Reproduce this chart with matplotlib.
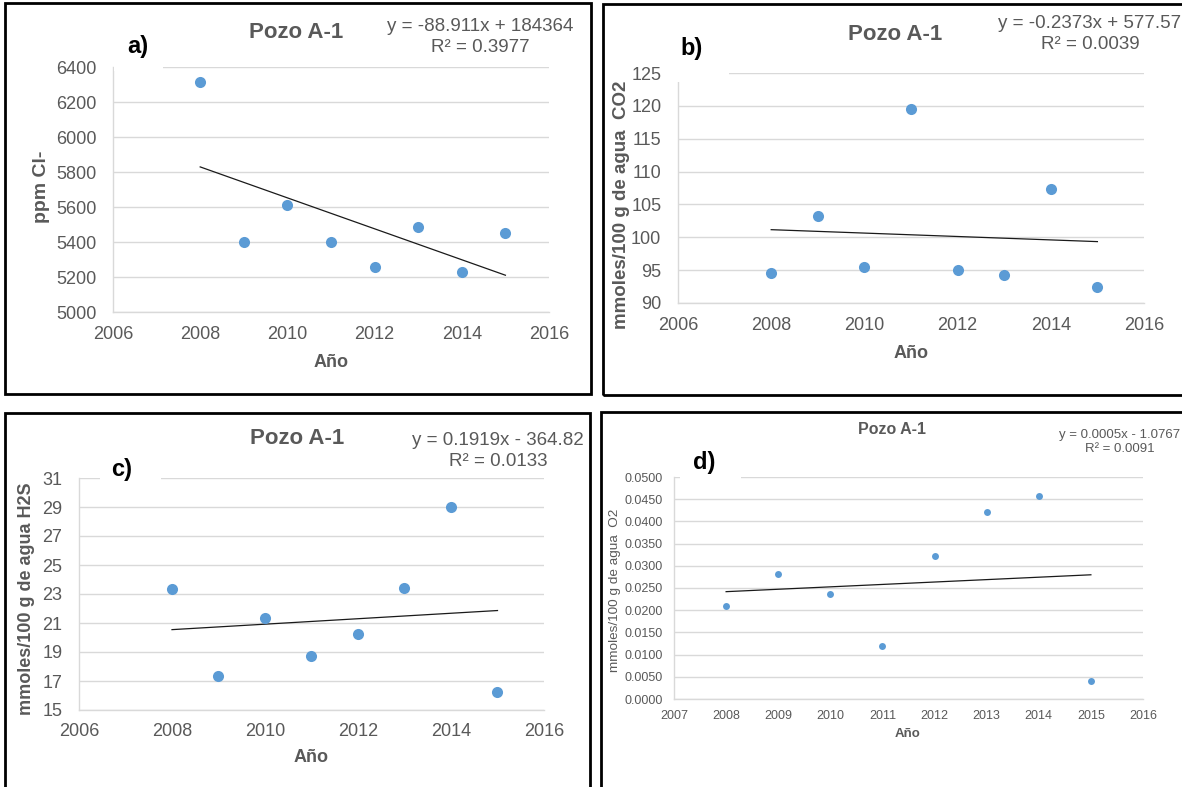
import numpy as np
import matplotlib
matplotlib.use("Agg")
from matplotlib import pyplot as plt
from matplotlib.patches import Rectangle
from matplotlib.ticker import FormatStrFormatter

plt.rcParams["font.family"] = ["Liberation Sans", "DejaVu Sans"]

W, H = 1182, 787

years = [2008, 2009, 2010, 2011, 2012, 2013, 2014, 2015]
cl_ppm = [6317, 5401, 5612, 5400, 5260, 5485, 5228, 5454]
co2 = [94.6, 103.2, 95.5, 119.5, 95.0, 94.3, 107.4, 92.5]
h2s = [23.36, 17.36, 21.34, 18.72, 20.23, 23.40, 28.98, 16.22]
o2 = [0.0209, 0.0282, 0.0236, 0.0119, 0.0321, 0.0421, 0.0457, 0.0041]

equations = [
    "y = -88.911x + 184364\nR² = 0.3977",
    "y = -0.2373x + 577.57\nR² = 0.0039",
    "y = 0.1919x - 364.82\nR² = 0.0133",
    "y = 0.0005x - 1.0767\nR² = 0.0091",
]
ylabels = [
    "ppm Cl-",
    "mmoles/100 g de agua  CO2",
    "mmoles/100 g de agua H2S",
    "mmoles/100 g de agua  O2",
]

GRAY = "#595959"
GRID = "#d9d9d9"
BLUE = "#5b9bd5"


def fx(x):
    return x / W


def fy(y):
    return 1 - y / H


def add_axes_px(fig, x0, y0, x1, y1):
    return fig.add_axes([fx(x0), fy(y1), fx(x1 - x0), (y1 - y0) / H])


fig = plt.figure(figsize=(W / 100, H / 100), dpi=100)

# panel frames (pixel boxes)
frames = [(5, 3, 591, 394), (603, 4, 1190, 395), (5, 413, 590, 795), (601, 412, 1190, 795)]
for x0, y0, x1, y1 in frames:
    fig.patches.append(Rectangle((fx(x0), fy(y1)), fx(x1 - x0), (y1 - y0) / H,
                                 transform=fig.transFigure, fill=False,
                                 edgecolor="black", linewidth=2, zorder=10))

# layout per panel
panels = [
    dict(box=(113, 67, 549, 312), data=cl_ppm, ylim=(5000, 6400), ystep=200,
         xlim=(2006, 2016), xstep=2, fmt="%d", fs=13, ms=64, pad=12, xpad=10,
         title=(296, 33, 16), eq=(480, 37, 13.5), lab=("a)", 138, 47),
         ylab=(42, 187, 14), xlab=(331, 362, 13),
         mask=(114, 55, 163, 71)),
    dict(box=(678, 73, 1144, 303), data=co2, ylim=(90, 125), ystep=5,
         xlim=(2006, 2016), xstep=2, fmt="%d", fs=13, ms=64, pad=12, xpad=10,
         title=(895, 34, 16), eq=(1090, 34, 13.5), lab=("b)", 692, 48),
         ylab=(621, 205, 13.5), xlab=(911, 354, 13),
         mask=(670, 58, 729, 82)),
    dict(box=(79, 478, 544, 710), data=h2s, ylim=(15, 31), ystep=2,
         xlim=(2006, 2016), xstep=2, fmt="%d", fs=13, ms=64, pad=12, xpad=9,
         title=(297, 439, 16), eq=(498, 451, 13.5), lab=("c)", 122, 470),
         ylab=(27, 599, 13), xlab=(311, 757, 13),
         mask=(100, 460, 161, 484)),
    dict(box=(674, 477, 1143, 699), data=o2, ylim=(0, 0.05), ystep=0.005,
         xlim=(2007, 2016), xstep=1, fmt="%.4f", fs=9, ms=25, pad=8, xpad=8,
         title=(892, 430, 11.5), eq=(1120, 442, 9.5), lab=("d)", 704, 462),
         ylab=(615, 590, 9.7), xlab=(908, 734, 9.5),
         mask=(680, 460, 741, 484)),
]

for i, p in enumerate(panels):
    ax = add_axes_px(fig, *p["box"])
    yvals = np.array(p["data"])
    x = np.array(years)
    ax.scatter(x, yvals, s=p["ms"], color=BLUE, zorder=3, linewidths=0)
    k, b = np.polyfit(x, yvals, 1)
    xt = np.array([years[0], years[-1]])
    ax.plot(xt, k * xt + b, color="#1a1a1a", linewidth=0.9, zorder=2)

    ax.set_xlim(*p["xlim"])
    ax.set_ylim(*p["ylim"])
    ax.set_xticks(np.arange(p["xlim"][0], p["xlim"][1] + 0.1, p["xstep"]))
    ax.set_yticks(np.arange(p["ylim"][0], p["ylim"][1] + p["ystep"] / 2, p["ystep"]))
    ax.yaxis.set_major_formatter(FormatStrFormatter(p["fmt"]))
    ax.tick_params(length=0, labelsize=p["fs"], labelcolor=GRAY)
    ax.tick_params(axis="y", pad=p["pad"])
    ax.tick_params(axis="x", pad=p["xpad"])
    ax.grid(axis="y", color=GRID, linewidth=1)
    ax.set_axisbelow(True)
    for s in ("top", "right"):
        ax.spines[s].set_visible(False)
    for s in ("left", "bottom"):
        ax.spines[s].set_color(GRID)
        ax.spines[s].set_linewidth(1)

    bold_d = "bold" if i < 3 else "normal"
    ax.set_ylabel(ylabels[i], fontsize=p["ylab"][2], fontweight=bold_d,
                  color=GRAY, va="center")
    ax.yaxis.set_label_coords(
        (p["ylab"][0] - p["box"][0]) / (p["box"][2] - p["box"][0]),
        (p["box"][3] - p["ylab"][1]) / (p["box"][3] - p["box"][1]))
    ax.set_xlabel("Año", fontsize=p["xlab"][2], fontweight="bold",
                  color=GRAY, va="center")
    ax.xaxis.set_label_coords(
        (p["xlab"][0] - p["box"][0]) / (p["box"][2] - p["box"][0]),
        (p["box"][3] - p["xlab"][1]) / (p["box"][3] - p["box"][1]))

    tx, ty, tfs = p["title"]
    fig.text(fx(tx), fy(ty), "Pozo A-1", fontsize=tfs, fontweight="bold",
             color=GRAY, ha="center", va="center")
    ex, ey, efs = p["eq"]
    fig.text(fx(ex), fy(ey), equations[i], fontsize=efs, color=GRAY,
             ha="center", va="center", multialignment="center", linespacing=1.25)

    # white box behind the panel letter hides part of the top gridline
    mx0, my0, mx1, my1 = p["mask"]
    fig.patches.append(Rectangle((fx(mx0), fy(my1)), fx(mx1 - mx0), (my1 - my0) / H,
                                 transform=fig.transFigure, facecolor="white",
                                 edgecolor="none", zorder=5))
    lt, lx, ly = p["lab"]
    fig.text(fx(lx), fy(ly), lt, fontsize=17, fontweight="bold", color="black",
             ha="center", va="center", zorder=6)

fig.savefig("out.png", dpi=100)
